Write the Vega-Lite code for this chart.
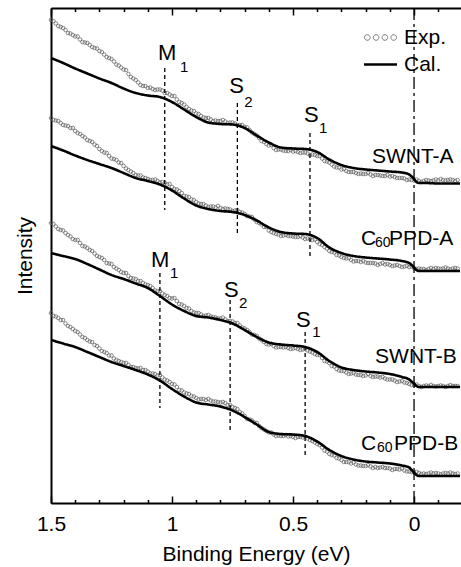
{
  "$schema": "https://vega.github.io/schema/vega-lite/v6.json",
  "width": 410,
  "height": 495,
  "autosize": {"type": "none"},
  "padding": {"left": 51, "top": 8, "right": 0, "bottom": 64},
  "background": "white",
  "config": {
    "view": {"stroke": null},
    "font": "Liberation Sans",
    "axis": {"domainColor": "black", "tickColor": "black", "labelColor": "black", "titleColor": "black", "grid": false, "titleFontWeight": "normal"},
    "text": {"font": "Liberation Sans", "color": "black"},
    "legend": {"labelFontSize": 21, "labelFont": "Liberation Sans", "labelColor": "black", "symbolSize": 272, "labelOffset": 13}
  },
  "datasets": {
    "exp": [
      {"sample":"SWNT-A","E":1.5,"I":483},{"sample":"SWNT-A","E":1.48,"I":479.5},{"sample":"SWNT-A","E":1.46,"I":476},{"sample":"SWNT-A","E":1.44,"I":473},{"sample":"SWNT-A","E":1.42,"I":469.5},{"sample":"SWNT-A","E":1.4,"I":466.5},{"sample":"SWNT-A","E":1.38,"I":463.5},{"sample":"SWNT-A","E":1.36,"I":460.5},{"sample":"SWNT-A","E":1.34,"I":458},{"sample":"SWNT-A","E":1.32,"I":455},
      {"sample":"SWNT-A","E":1.3,"I":452},{"sample":"SWNT-A","E":1.28,"I":448.5},{"sample":"SWNT-A","E":1.26,"I":445},{"sample":"SWNT-A","E":1.24,"I":441.5},{"sample":"SWNT-A","E":1.22,"I":437.5},{"sample":"SWNT-A","E":1.2,"I":433.5},{"sample":"SWNT-A","E":1.18,"I":429},{"sample":"SWNT-A","E":1.16,"I":424.5},{"sample":"SWNT-A","E":1.14,"I":420.5},{"sample":"SWNT-A","E":1.12,"I":417},
      {"sample":"SWNT-A","E":1.1,"I":415},{"sample":"SWNT-A","E":1.08,"I":414},{"sample":"SWNT-A","E":1.06,"I":413.5},{"sample":"SWNT-A","E":1.04,"I":412.5},{"sample":"SWNT-A","E":1.02,"I":410},{"sample":"SWNT-A","E":1,"I":407},{"sample":"SWNT-A","E":0.98,"I":403.5},{"sample":"SWNT-A","E":0.96,"I":400},{"sample":"SWNT-A","E":0.94,"I":396},{"sample":"SWNT-A","E":0.92,"I":392.5},
      {"sample":"SWNT-A","E":0.9,"I":389.5},{"sample":"SWNT-A","E":0.88,"I":387},{"sample":"SWNT-A","E":0.86,"I":385},{"sample":"SWNT-A","E":0.84,"I":383.5},{"sample":"SWNT-A","E":0.82,"I":382.5},{"sample":"SWNT-A","E":0.8,"I":382},{"sample":"SWNT-A","E":0.78,"I":381.5},{"sample":"SWNT-A","E":0.76,"I":380.5},{"sample":"SWNT-A","E":0.74,"I":379.5},{"sample":"SWNT-A","E":0.72,"I":378},
      {"sample":"SWNT-A","E":0.7,"I":376},{"sample":"SWNT-A","E":0.68,"I":373},{"sample":"SWNT-A","E":0.66,"I":369},{"sample":"SWNT-A","E":0.64,"I":365},{"sample":"SWNT-A","E":0.62,"I":361},{"sample":"SWNT-A","E":0.6,"I":357.5},{"sample":"SWNT-A","E":0.58,"I":355},{"sample":"SWNT-A","E":0.56,"I":353.5},{"sample":"SWNT-A","E":0.54,"I":352.5},{"sample":"SWNT-A","E":0.52,"I":352},
      {"sample":"SWNT-A","E":0.5,"I":351.5},{"sample":"SWNT-A","E":0.48,"I":351},{"sample":"SWNT-A","E":0.46,"I":350.5},{"sample":"SWNT-A","E":0.44,"I":349.5},{"sample":"SWNT-A","E":0.42,"I":348.5},{"sample":"SWNT-A","E":0.4,"I":347},{"sample":"SWNT-A","E":0.38,"I":344.5},{"sample":"SWNT-A","E":0.36,"I":341.5},{"sample":"SWNT-A","E":0.34,"I":338.5},{"sample":"SWNT-A","E":0.32,"I":335.5},
      {"sample":"SWNT-A","E":0.3,"I":333.5},{"sample":"SWNT-A","E":0.28,"I":332},{"sample":"SWNT-A","E":0.26,"I":331},{"sample":"SWNT-A","E":0.24,"I":330},{"sample":"SWNT-A","E":0.22,"I":329.5},{"sample":"SWNT-A","E":0.2,"I":329},{"sample":"SWNT-A","E":0.18,"I":328.5},{"sample":"SWNT-A","E":0.16,"I":328},{"sample":"SWNT-A","E":0.14,"I":327.5},{"sample":"SWNT-A","E":0.12,"I":327},
      {"sample":"SWNT-A","E":0.1,"I":326.5},{"sample":"SWNT-A","E":0.08,"I":326},{"sample":"SWNT-A","E":0.06,"I":325},{"sample":"SWNT-A","E":0.04,"I":324.5},{"sample":"SWNT-A","E":0.02,"I":323.5},{"sample":"SWNT-A","E":0,"I":322.5},{"sample":"SWNT-A","E":-0.02,"I":322},{"sample":"SWNT-A","E":-0.04,"I":322},{"sample":"SWNT-A","E":-0.06,"I":322.5},{"sample":"SWNT-A","E":-0.08,"I":322.5},
      {"sample":"SWNT-A","E":-0.1,"I":322.5},{"sample":"SWNT-A","E":-0.12,"I":323},{"sample":"SWNT-A","E":-0.14,"I":323},{"sample":"SWNT-A","E":-0.16,"I":323},{"sample":"SWNT-A","E":-0.18,"I":323},
      {"sample":"SWNT-A","E":1.49,"I":482},{"sample":"SWNT-A","E":1.47,"I":477},{"sample":"SWNT-A","E":1.45,"I":475},{"sample":"SWNT-A","E":1.43,"I":470},{"sample":"SWNT-A","E":1.41,"I":468},{"sample":"SWNT-A","E":1.39,"I":466.5},{"sample":"SWNT-A","E":1.37,"I":461},{"sample":"SWNT-A","E":1.35,"I":460},{"sample":"SWNT-A","E":1.33,"I":456},{"sample":"SWNT-A","E":1.31,"I":454.5},
      {"sample":"SWNT-A","E":1.29,"I":451},{"sample":"SWNT-A","E":1.27,"I":446},{"sample":"SWNT-A","E":1.25,"I":444},{"sample":"SWNT-A","E":1.23,"I":438.5},{"sample":"SWNT-A","E":1.21,"I":435.5},{"sample":"SWNT-A","E":1.19,"I":433},{"sample":"SWNT-A","E":1.17,"I":426},{"sample":"SWNT-A","E":1.15,"I":423},{"sample":"SWNT-A","E":1.13,"I":418},{"sample":"SWNT-A","E":1.11,"I":417},
      {"sample":"SWNT-A","E":1.09,"I":415.5},{"sample":"SWNT-A","E":1.07,"I":413},{"sample":"SWNT-A","E":1.05,"I":413.5},{"sample":"SWNT-A","E":1.03,"I":410},{"sample":"SWNT-A","E":1.01,"I":408.5},{"sample":"SWNT-A","E":0.99,"I":407},{"sample":"SWNT-A","E":0.97,"I":401},{"sample":"SWNT-A","E":0.95,"I":398.5},{"sample":"SWNT-A","E":0.93,"I":394},{"sample":"SWNT-A","E":0.91,"I":392},
      {"sample":"SWNT-A","E":0.89,"I":389},{"sample":"SWNT-A","E":0.87,"I":385.5},{"sample":"SWNT-A","E":0.85,"I":385},{"sample":"SWNT-A","E":0.83,"I":382},{"sample":"SWNT-A","E":0.81,"I":382},{"sample":"SWNT-A","E":0.79,"I":383},{"sample":"SWNT-A","E":0.77,"I":380},{"sample":"SWNT-A","E":0.75,"I":380.5},{"sample":"SWNT-A","E":0.73,"I":378},{"sample":"SWNT-A","E":0.71,"I":378},
      {"sample":"SWNT-A","E":0.69,"I":375.5},{"sample":"SWNT-A","E":0.67,"I":370.5},{"sample":"SWNT-A","E":0.65,"I":367.5},{"sample":"SWNT-A","E":0.63,"I":362},{"sample":"SWNT-A","E":0.61,"I":359},{"sample":"SWNT-A","E":0.59,"I":358},{"sample":"SWNT-A","E":0.57,"I":353},{"sample":"SWNT-A","E":0.55,"I":353.5},{"sample":"SWNT-A","E":0.53,"I":352},{"sample":"SWNT-A","E":0.51,"I":353},
      {"sample":"SWNT-A","E":0.49,"I":352},{"sample":"SWNT-A","E":0.47,"I":350},{"sample":"SWNT-A","E":0.45,"I":350.5},{"sample":"SWNT-A","E":0.43,"I":348},{"sample":"SWNT-A","E":0.41,"I":348},{"sample":"SWNT-A","E":0.39,"I":347},{"sample":"SWNT-A","E":0.37,"I":342},{"sample":"SWNT-A","E":0.35,"I":340.5},{"sample":"SWNT-A","E":0.33,"I":336.5},{"sample":"SWNT-A","E":0.31,"I":335.5},
      {"sample":"SWNT-A","E":0.29,"I":334},{"sample":"SWNT-A","E":0.27,"I":331},{"sample":"SWNT-A","E":0.25,"I":331},{"sample":"SWNT-A","E":0.23,"I":329},{"sample":"SWNT-A","E":0.21,"I":329},{"sample":"SWNT-A","E":0.19,"I":330},{"sample":"SWNT-A","E":0.17,"I":327},{"sample":"SWNT-A","E":0.15,"I":328},{"sample":"SWNT-A","E":0.13,"I":327},{"sample":"SWNT-A","E":0.11,"I":328},
      {"sample":"SWNT-A","E":0.09,"I":327},{"sample":"SWNT-A","E":0.07,"I":325},{"sample":"SWNT-A","E":0.05,"I":325},{"sample":"SWNT-A","E":0.03,"I":323},{"sample":"SWNT-A","E":0.01,"I":323},{"sample":"SWNT-A","E":-0.01,"I":323.5},{"sample":"SWNT-A","E":-0.03,"I":321},{"sample":"SWNT-A","E":-0.05,"I":323},{"sample":"SWNT-A","E":-0.07,"I":322},{"sample":"SWNT-A","E":-0.09,"I":323.5},
      {"sample":"SWNT-A","E":-0.11,"I":324},{"sample":"SWNT-A","E":-0.13,"I":322.5},{"sample":"SWNT-A","E":-0.15,"I":323.5},{"sample":"SWNT-A","E":-0.17,"I":322},

      {"sample":"C60PPD-A","E":1.5,"I":385},{"sample":"C60PPD-A","E":1.48,"I":382.5},{"sample":"C60PPD-A","E":1.46,"I":380},{"sample":"C60PPD-A","E":1.44,"I":377.5},{"sample":"C60PPD-A","E":1.42,"I":375},{"sample":"C60PPD-A","E":1.4,"I":372},{"sample":"C60PPD-A","E":1.38,"I":369},{"sample":"C60PPD-A","E":1.36,"I":365.5},{"sample":"C60PPD-A","E":1.34,"I":362},{"sample":"C60PPD-A","E":1.32,"I":358.5},
      {"sample":"C60PPD-A","E":1.3,"I":354},{"sample":"C60PPD-A","E":1.28,"I":350.5},{"sample":"C60PPD-A","E":1.26,"I":347},{"sample":"C60PPD-A","E":1.24,"I":344},{"sample":"C60PPD-A","E":1.22,"I":340.5},{"sample":"C60PPD-A","E":1.2,"I":337},{"sample":"C60PPD-A","E":1.18,"I":333},{"sample":"C60PPD-A","E":1.16,"I":330},{"sample":"C60PPD-A","E":1.14,"I":327.5},{"sample":"C60PPD-A","E":1.12,"I":325.5},
      {"sample":"C60PPD-A","E":1.1,"I":324},{"sample":"C60PPD-A","E":1.08,"I":323},{"sample":"C60PPD-A","E":1.06,"I":322},{"sample":"C60PPD-A","E":1.04,"I":321},{"sample":"C60PPD-A","E":1.02,"I":318.5},{"sample":"C60PPD-A","E":1,"I":316},{"sample":"C60PPD-A","E":0.98,"I":313.5},{"sample":"C60PPD-A","E":0.96,"I":310},{"sample":"C60PPD-A","E":0.94,"I":306.5},{"sample":"C60PPD-A","E":0.92,"I":303.5},
      {"sample":"C60PPD-A","E":0.9,"I":301},{"sample":"C60PPD-A","E":0.88,"I":299},{"sample":"C60PPD-A","E":0.86,"I":297.5},{"sample":"C60PPD-A","E":0.84,"I":296.5},{"sample":"C60PPD-A","E":0.82,"I":295.5},{"sample":"C60PPD-A","E":0.8,"I":295},{"sample":"C60PPD-A","E":0.78,"I":294.5},{"sample":"C60PPD-A","E":0.76,"I":293.5},{"sample":"C60PPD-A","E":0.74,"I":292.5},{"sample":"C60PPD-A","E":0.72,"I":291},
      {"sample":"C60PPD-A","E":0.7,"I":289},{"sample":"C60PPD-A","E":0.68,"I":286.5},{"sample":"C60PPD-A","E":0.66,"I":283.5},{"sample":"C60PPD-A","E":0.64,"I":280},{"sample":"C60PPD-A","E":0.62,"I":276},{"sample":"C60PPD-A","E":0.6,"I":272.5},{"sample":"C60PPD-A","E":0.58,"I":270},{"sample":"C60PPD-A","E":0.56,"I":268.5},{"sample":"C60PPD-A","E":0.54,"I":267.5},{"sample":"C60PPD-A","E":0.52,"I":267},
      {"sample":"C60PPD-A","E":0.5,"I":266.5},{"sample":"C60PPD-A","E":0.48,"I":266},{"sample":"C60PPD-A","E":0.46,"I":265.5},{"sample":"C60PPD-A","E":0.44,"I":264.5},{"sample":"C60PPD-A","E":0.42,"I":263},{"sample":"C60PPD-A","E":0.4,"I":261},{"sample":"C60PPD-A","E":0.38,"I":258},{"sample":"C60PPD-A","E":0.36,"I":254.5},{"sample":"C60PPD-A","E":0.34,"I":251},{"sample":"C60PPD-A","E":0.32,"I":248},
      {"sample":"C60PPD-A","E":0.3,"I":246},{"sample":"C60PPD-A","E":0.28,"I":244.5},{"sample":"C60PPD-A","E":0.26,"I":243},{"sample":"C60PPD-A","E":0.24,"I":242},{"sample":"C60PPD-A","E":0.22,"I":241},{"sample":"C60PPD-A","E":0.2,"I":240.5},{"sample":"C60PPD-A","E":0.18,"I":240},{"sample":"C60PPD-A","E":0.16,"I":239.5},{"sample":"C60PPD-A","E":0.14,"I":239},{"sample":"C60PPD-A","E":0.12,"I":238.5},
      {"sample":"C60PPD-A","E":0.1,"I":238},{"sample":"C60PPD-A","E":0.08,"I":237.5},{"sample":"C60PPD-A","E":0.06,"I":237},{"sample":"C60PPD-A","E":0.04,"I":236.5},{"sample":"C60PPD-A","E":0.02,"I":236},{"sample":"C60PPD-A","E":0,"I":235},{"sample":"C60PPD-A","E":-0.02,"I":234.5},{"sample":"C60PPD-A","E":-0.04,"I":234},{"sample":"C60PPD-A","E":-0.06,"I":234},{"sample":"C60PPD-A","E":-0.08,"I":234},
      {"sample":"C60PPD-A","E":-0.1,"I":234.5},{"sample":"C60PPD-A","E":-0.12,"I":234.5},{"sample":"C60PPD-A","E":-0.14,"I":234.5},{"sample":"C60PPD-A","E":-0.16,"I":234.5},{"sample":"C60PPD-A","E":-0.18,"I":234.5},
      {"sample":"C60PPD-A","E":1.49,"I":383},{"sample":"C60PPD-A","E":1.47,"I":382},{"sample":"C60PPD-A","E":1.45,"I":378},{"sample":"C60PPD-A","E":1.43,"I":377},{"sample":"C60PPD-A","E":1.41,"I":375},{"sample":"C60PPD-A","E":1.39,"I":370},{"sample":"C60PPD-A","E":1.37,"I":367},{"sample":"C60PPD-A","E":1.35,"I":363},{"sample":"C60PPD-A","E":1.33,"I":361},{"sample":"C60PPD-A","E":1.31,"I":357},
      {"sample":"C60PPD-A","E":1.29,"I":352},{"sample":"C60PPD-A","E":1.27,"I":350},{"sample":"C60PPD-A","E":1.25,"I":344.5},{"sample":"C60PPD-A","E":1.23,"I":343},{"sample":"C60PPD-A","E":1.21,"I":340},{"sample":"C60PPD-A","E":1.19,"I":334.5},{"sample":"C60PPD-A","E":1.17,"I":331.5},{"sample":"C60PPD-A","E":1.15,"I":328},{"sample":"C60PPD-A","E":1.13,"I":327.5},{"sample":"C60PPD-A","E":1.11,"I":325},
      {"sample":"C60PPD-A","E":1.09,"I":323},{"sample":"C60PPD-A","E":1.07,"I":323.5},{"sample":"C60PPD-A","E":1.05,"I":320.5},{"sample":"C60PPD-A","E":1.03,"I":320},{"sample":"C60PPD-A","E":1.01,"I":319},{"sample":"C60PPD-A","E":0.99,"I":314},{"sample":"C60PPD-A","E":0.97,"I":312},{"sample":"C60PPD-A","E":0.95,"I":307},{"sample":"C60PPD-A","E":0.93,"I":306},{"sample":"C60PPD-A","E":0.91,"I":303},
      {"sample":"C60PPD-A","E":0.89,"I":299.5},{"sample":"C60PPD-A","E":0.87,"I":299},{"sample":"C60PPD-A","E":0.85,"I":296},{"sample":"C60PPD-A","E":0.83,"I":296.5},{"sample":"C60PPD-A","E":0.81,"I":297},{"sample":"C60PPD-A","E":0.79,"I":294},{"sample":"C60PPD-A","E":0.77,"I":294},{"sample":"C60PPD-A","E":0.75,"I":292},{"sample":"C60PPD-A","E":0.73,"I":293},{"sample":"C60PPD-A","E":0.71,"I":290.5},
      {"sample":"C60PPD-A","E":0.69,"I":287},{"sample":"C60PPD-A","E":0.67,"I":286},{"sample":"C60PPD-A","E":0.65,"I":281},{"sample":"C60PPD-A","E":0.63,"I":278.5},{"sample":"C60PPD-A","E":0.61,"I":276},{"sample":"C60PPD-A","E":0.59,"I":271},{"sample":"C60PPD-A","E":0.57,"I":269},{"sample":"C60PPD-A","E":0.55,"I":267},{"sample":"C60PPD-A","E":0.53,"I":268},{"sample":"C60PPD-A","E":0.51,"I":267},
      {"sample":"C60PPD-A","E":0.49,"I":266},{"sample":"C60PPD-A","E":0.47,"I":267},{"sample":"C60PPD-A","E":0.45,"I":264},{"sample":"C60PPD-A","E":0.43,"I":264},{"sample":"C60PPD-A","E":0.41,"I":263.5},{"sample":"C60PPD-A","E":0.39,"I":259},{"sample":"C60PPD-A","E":0.37,"I":256},{"sample":"C60PPD-A","E":0.35,"I":252},{"sample":"C60PPD-A","E":0.33,"I":250.5},{"sample":"C60PPD-A","E":0.31,"I":247.5},
      {"sample":"C60PPD-A","E":0.29,"I":245},{"sample":"C60PPD-A","E":0.27,"I":245},{"sample":"C60PPD-A","E":0.25,"I":241.5},{"sample":"C60PPD-A","E":0.23,"I":242},{"sample":"C60PPD-A","E":0.21,"I":242},{"sample":"C60PPD-A","E":0.19,"I":240},{"sample":"C60PPD-A","E":0.17,"I":240},{"sample":"C60PPD-A","E":0.15,"I":238},{"sample":"C60PPD-A","E":0.13,"I":240},{"sample":"C60PPD-A","E":0.11,"I":239},
      {"sample":"C60PPD-A","E":0.09,"I":237},{"sample":"C60PPD-A","E":0.07,"I":238},{"sample":"C60PPD-A","E":0.05,"I":236},{"sample":"C60PPD-A","E":0.03,"I":237},{"sample":"C60PPD-A","E":0.01,"I":236.5},{"sample":"C60PPD-A","E":-0.01,"I":234},{"sample":"C60PPD-A","E":-0.03,"I":234},{"sample":"C60PPD-A","E":-0.05,"I":233},{"sample":"C60PPD-A","E":-0.07,"I":235},{"sample":"C60PPD-A","E":-0.09,"I":235},
      {"sample":"C60PPD-A","E":-0.11,"I":234},{"sample":"C60PPD-A","E":-0.13,"I":235.5},{"sample":"C60PPD-A","E":-0.15,"I":233.5},{"sample":"C60PPD-A","E":-0.17,"I":235},

      {"sample":"SWNT-B","E":1.5,"I":280},{"sample":"SWNT-B","E":1.48,"I":276.5},{"sample":"SWNT-B","E":1.46,"I":273},{"sample":"SWNT-B","E":1.44,"I":270},{"sample":"SWNT-B","E":1.42,"I":266.5},{"sample":"SWNT-B","E":1.4,"I":263},{"sample":"SWNT-B","E":1.38,"I":260},{"sample":"SWNT-B","E":1.36,"I":256.5},{"sample":"SWNT-B","E":1.34,"I":253},{"sample":"SWNT-B","E":1.32,"I":249.5},
      {"sample":"SWNT-B","E":1.3,"I":246},{"sample":"SWNT-B","E":1.28,"I":243},{"sample":"SWNT-B","E":1.26,"I":239.5},{"sample":"SWNT-B","E":1.24,"I":236},{"sample":"SWNT-B","E":1.22,"I":233},{"sample":"SWNT-B","E":1.2,"I":230},{"sample":"SWNT-B","E":1.18,"I":227},{"sample":"SWNT-B","E":1.16,"I":224.5},{"sample":"SWNT-B","E":1.14,"I":222},{"sample":"SWNT-B","E":1.12,"I":220},
      {"sample":"SWNT-B","E":1.1,"I":218},{"sample":"SWNT-B","E":1.08,"I":215},{"sample":"SWNT-B","E":1.06,"I":212},{"sample":"SWNT-B","E":1.04,"I":209.5},{"sample":"SWNT-B","E":1.02,"I":207},{"sample":"SWNT-B","E":1,"I":204.5},{"sample":"SWNT-B","E":0.98,"I":202},{"sample":"SWNT-B","E":0.96,"I":198.5},{"sample":"SWNT-B","E":0.94,"I":195},{"sample":"SWNT-B","E":0.92,"I":192},
      {"sample":"SWNT-B","E":0.9,"I":190},{"sample":"SWNT-B","E":0.88,"I":188.5},{"sample":"SWNT-B","E":0.86,"I":187.5},{"sample":"SWNT-B","E":0.84,"I":186.5},{"sample":"SWNT-B","E":0.82,"I":185.5},{"sample":"SWNT-B","E":0.8,"I":184.5},{"sample":"SWNT-B","E":0.78,"I":183.5},{"sample":"SWNT-B","E":0.76,"I":182},{"sample":"SWNT-B","E":0.74,"I":180},{"sample":"SWNT-B","E":0.72,"I":177.5},
      {"sample":"SWNT-B","E":0.7,"I":174.5},{"sample":"SWNT-B","E":0.68,"I":171},{"sample":"SWNT-B","E":0.66,"I":168},{"sample":"SWNT-B","E":0.64,"I":164.5},{"sample":"SWNT-B","E":0.62,"I":161},{"sample":"SWNT-B","E":0.6,"I":158.5},{"sample":"SWNT-B","E":0.58,"I":157},{"sample":"SWNT-B","E":0.56,"I":156},{"sample":"SWNT-B","E":0.54,"I":155.5},{"sample":"SWNT-B","E":0.52,"I":155},
      {"sample":"SWNT-B","E":0.5,"I":154.5},{"sample":"SWNT-B","E":0.48,"I":154},{"sample":"SWNT-B","E":0.46,"I":153.5},{"sample":"SWNT-B","E":0.44,"I":152.5},{"sample":"SWNT-B","E":0.42,"I":150.5},{"sample":"SWNT-B","E":0.4,"I":148},{"sample":"SWNT-B","E":0.38,"I":145},{"sample":"SWNT-B","E":0.36,"I":141.5},{"sample":"SWNT-B","E":0.34,"I":137},{"sample":"SWNT-B","E":0.32,"I":134},
      {"sample":"SWNT-B","E":0.3,"I":132},{"sample":"SWNT-B","E":0.28,"I":130.5},{"sample":"SWNT-B","E":0.26,"I":129.5},{"sample":"SWNT-B","E":0.24,"I":128.5},{"sample":"SWNT-B","E":0.22,"I":128},{"sample":"SWNT-B","E":0.2,"I":127.5},{"sample":"SWNT-B","E":0.18,"I":127},{"sample":"SWNT-B","E":0.16,"I":126.5},{"sample":"SWNT-B","E":0.14,"I":125.5},{"sample":"SWNT-B","E":0.12,"I":124.5},
      {"sample":"SWNT-B","E":0.1,"I":123.5},{"sample":"SWNT-B","E":0.08,"I":122.5},{"sample":"SWNT-B","E":0.06,"I":121.5},{"sample":"SWNT-B","E":0.04,"I":120.5},{"sample":"SWNT-B","E":0.02,"I":119},{"sample":"SWNT-B","E":0,"I":118},{"sample":"SWNT-B","E":-0.02,"I":117},{"sample":"SWNT-B","E":-0.04,"I":117},{"sample":"SWNT-B","E":-0.06,"I":117},{"sample":"SWNT-B","E":-0.08,"I":117},
      {"sample":"SWNT-B","E":-0.1,"I":117},{"sample":"SWNT-B","E":-0.12,"I":117},{"sample":"SWNT-B","E":-0.14,"I":117},{"sample":"SWNT-B","E":-0.16,"I":117},{"sample":"SWNT-B","E":-0.18,"I":117},
      {"sample":"SWNT-B","E":1.49,"I":279},{"sample":"SWNT-B","E":1.47,"I":274},{"sample":"SWNT-B","E":1.45,"I":272.5},{"sample":"SWNT-B","E":1.43,"I":268},{"sample":"SWNT-B","E":1.41,"I":264},{"sample":"SWNT-B","E":1.39,"I":263},{"sample":"SWNT-B","E":1.37,"I":257},{"sample":"SWNT-B","E":1.35,"I":255},{"sample":"SWNT-B","E":1.33,"I":252},{"sample":"SWNT-B","E":1.31,"I":247},
      {"sample":"SWNT-B","E":1.29,"I":245},{"sample":"SWNT-B","E":1.27,"I":240},{"sample":"SWNT-B","E":1.25,"I":239},{"sample":"SWNT-B","E":1.23,"I":234.5},{"sample":"SWNT-B","E":1.21,"I":231},{"sample":"SWNT-B","E":1.19,"I":230},{"sample":"SWNT-B","E":1.17,"I":225},{"sample":"SWNT-B","E":1.15,"I":224},{"sample":"SWNT-B","E":1.13,"I":222},{"sample":"SWNT-B","E":1.11,"I":218.5},
      {"sample":"SWNT-B","E":1.09,"I":217},{"sample":"SWNT-B","E":1.07,"I":212.5},{"sample":"SWNT-B","E":1.05,"I":212},{"sample":"SWNT-B","E":1.03,"I":208},{"sample":"SWNT-B","E":1.01,"I":205},{"sample":"SWNT-B","E":0.99,"I":205},{"sample":"SWNT-B","E":0.97,"I":199},{"sample":"SWNT-B","E":0.95,"I":197},{"sample":"SWNT-B","E":0.93,"I":194.5},{"sample":"SWNT-B","E":0.91,"I":190.5},
      {"sample":"SWNT-B","E":0.89,"I":190},{"sample":"SWNT-B","E":0.87,"I":187},{"sample":"SWNT-B","E":0.85,"I":188},{"sample":"SWNT-B","E":0.83,"I":186},{"sample":"SWNT-B","E":0.81,"I":184.5},{"sample":"SWNT-B","E":0.79,"I":185.5},{"sample":"SWNT-B","E":0.77,"I":182},{"sample":"SWNT-B","E":0.75,"I":181.5},{"sample":"SWNT-B","E":0.73,"I":180},{"sample":"SWNT-B","E":0.71,"I":175.5},
      {"sample":"SWNT-B","E":0.69,"I":173},{"sample":"SWNT-B","E":0.67,"I":168.5},{"sample":"SWNT-B","E":0.65,"I":167},{"sample":"SWNT-B","E":0.63,"I":163},{"sample":"SWNT-B","E":0.61,"I":159},{"sample":"SWNT-B","E":0.59,"I":159},{"sample":"SWNT-B","E":0.57,"I":155.5},{"sample":"SWNT-B","E":0.55,"I":156},{"sample":"SWNT-B","E":0.53,"I":156},{"sample":"SWNT-B","E":0.51,"I":154},
      {"sample":"SWNT-B","E":0.49,"I":155},{"sample":"SWNT-B","E":0.47,"I":153},{"sample":"SWNT-B","E":0.45,"I":154},{"sample":"SWNT-B","E":0.43,"I":151.5},{"sample":"SWNT-B","E":0.41,"I":149},{"sample":"SWNT-B","E":0.39,"I":148},{"sample":"SWNT-B","E":0.37,"I":142},{"sample":"SWNT-B","E":0.35,"I":140},{"sample":"SWNT-B","E":0.33,"I":136.5},{"sample":"SWNT-B","E":0.31,"I":132.5},
      {"sample":"SWNT-B","E":0.29,"I":132},{"sample":"SWNT-B","E":0.27,"I":129},{"sample":"SWNT-B","E":0.25,"I":130},{"sample":"SWNT-B","E":0.23,"I":128},{"sample":"SWNT-B","E":0.21,"I":127},{"sample":"SWNT-B","E":0.19,"I":129},{"sample":"SWNT-B","E":0.17,"I":126},{"sample":"SWNT-B","E":0.15,"I":126.5},{"sample":"SWNT-B","E":0.13,"I":126},{"sample":"SWNT-B","E":0.11,"I":123.5},
      {"sample":"SWNT-B","E":0.09,"I":123.5},{"sample":"SWNT-B","E":0.07,"I":121},{"sample":"SWNT-B","E":0.05,"I":122},{"sample":"SWNT-B","E":0.03,"I":120},{"sample":"SWNT-B","E":0.01,"I":118},{"sample":"SWNT-B","E":-0.01,"I":118.5},{"sample":"SWNT-B","E":-0.03,"I":116},{"sample":"SWNT-B","E":-0.05,"I":117.5},{"sample":"SWNT-B","E":-0.07,"I":118},{"sample":"SWNT-B","E":-0.09,"I":116.5},
      {"sample":"SWNT-B","E":-0.11,"I":117.5},{"sample":"SWNT-B","E":-0.13,"I":116},{"sample":"SWNT-B","E":-0.15,"I":118},{"sample":"SWNT-B","E":-0.17,"I":117},

      {"sample":"C60PPD-B","E":1.5,"I":190},{"sample":"C60PPD-B","E":1.48,"I":186.5},{"sample":"C60PPD-B","E":1.46,"I":183},{"sample":"C60PPD-B","E":1.44,"I":179.5},{"sample":"C60PPD-B","E":1.42,"I":176},{"sample":"C60PPD-B","E":1.4,"I":172},{"sample":"C60PPD-B","E":1.38,"I":168.5},{"sample":"C60PPD-B","E":1.36,"I":165},{"sample":"C60PPD-B","E":1.34,"I":161.5},{"sample":"C60PPD-B","E":1.32,"I":158},
      {"sample":"C60PPD-B","E":1.3,"I":154.5},{"sample":"C60PPD-B","E":1.28,"I":151},{"sample":"C60PPD-B","E":1.26,"I":147.5},{"sample":"C60PPD-B","E":1.24,"I":144.5},{"sample":"C60PPD-B","E":1.22,"I":142},{"sample":"C60PPD-B","E":1.2,"I":140},{"sample":"C60PPD-B","E":1.18,"I":138},{"sample":"C60PPD-B","E":1.16,"I":136},{"sample":"C60PPD-B","E":1.14,"I":134.5},{"sample":"C60PPD-B","E":1.12,"I":133},
      {"sample":"C60PPD-B","E":1.1,"I":131.5},{"sample":"C60PPD-B","E":1.08,"I":129.5},{"sample":"C60PPD-B","E":1.06,"I":127.5},{"sample":"C60PPD-B","E":1.04,"I":125.5},{"sample":"C60PPD-B","E":1.02,"I":122.5},{"sample":"C60PPD-B","E":1,"I":119},{"sample":"C60PPD-B","E":0.98,"I":116},{"sample":"C60PPD-B","E":0.96,"I":112.5},{"sample":"C60PPD-B","E":0.94,"I":109.5},{"sample":"C60PPD-B","E":0.92,"I":107},
      {"sample":"C60PPD-B","E":0.9,"I":105},{"sample":"C60PPD-B","E":0.88,"I":104},{"sample":"C60PPD-B","E":0.86,"I":103},{"sample":"C60PPD-B","E":0.84,"I":102.5},{"sample":"C60PPD-B","E":0.82,"I":101.5},{"sample":"C60PPD-B","E":0.8,"I":100.5},{"sample":"C60PPD-B","E":0.78,"I":100},{"sample":"C60PPD-B","E":0.76,"I":98},{"sample":"C60PPD-B","E":0.74,"I":95},{"sample":"C60PPD-B","E":0.72,"I":91},
      {"sample":"C60PPD-B","E":0.7,"I":87},{"sample":"C60PPD-B","E":0.68,"I":83.5},{"sample":"C60PPD-B","E":0.66,"I":80.5},{"sample":"C60PPD-B","E":0.64,"I":77},{"sample":"C60PPD-B","E":0.62,"I":73.5},{"sample":"C60PPD-B","E":0.6,"I":70.5},{"sample":"C60PPD-B","E":0.58,"I":68.5},{"sample":"C60PPD-B","E":0.56,"I":67.5},{"sample":"C60PPD-B","E":0.54,"I":67},{"sample":"C60PPD-B","E":0.52,"I":66.5},
      {"sample":"C60PPD-B","E":0.5,"I":66},{"sample":"C60PPD-B","E":0.48,"I":66},{"sample":"C60PPD-B","E":0.46,"I":65.5},{"sample":"C60PPD-B","E":0.44,"I":64.5},{"sample":"C60PPD-B","E":0.42,"I":62},{"sample":"C60PPD-B","E":0.4,"I":59},{"sample":"C60PPD-B","E":0.38,"I":55.5},{"sample":"C60PPD-B","E":0.36,"I":51.5},{"sample":"C60PPD-B","E":0.34,"I":48},{"sample":"C60PPD-B","E":0.32,"I":45},
      {"sample":"C60PPD-B","E":0.3,"I":43},{"sample":"C60PPD-B","E":0.28,"I":41},{"sample":"C60PPD-B","E":0.26,"I":39.5},{"sample":"C60PPD-B","E":0.24,"I":38.5},{"sample":"C60PPD-B","E":0.22,"I":37.5},{"sample":"C60PPD-B","E":0.2,"I":37},{"sample":"C60PPD-B","E":0.18,"I":36.5},{"sample":"C60PPD-B","E":0.16,"I":36},{"sample":"C60PPD-B","E":0.14,"I":35.5},{"sample":"C60PPD-B","E":0.12,"I":35},
      {"sample":"C60PPD-B","E":0.1,"I":34.5},{"sample":"C60PPD-B","E":0.08,"I":34},{"sample":"C60PPD-B","E":0.06,"I":33.5},{"sample":"C60PPD-B","E":0.04,"I":32.5},{"sample":"C60PPD-B","E":0.02,"I":31.5},{"sample":"C60PPD-B","E":0,"I":30.5},{"sample":"C60PPD-B","E":-0.02,"I":30},{"sample":"C60PPD-B","E":-0.04,"I":29.5},{"sample":"C60PPD-B","E":-0.06,"I":29.5},{"sample":"C60PPD-B","E":-0.08,"I":29.5},
      {"sample":"C60PPD-B","E":-0.1,"I":29.5},{"sample":"C60PPD-B","E":-0.12,"I":29.5},{"sample":"C60PPD-B","E":-0.14,"I":29.5},{"sample":"C60PPD-B","E":-0.16,"I":29.5},{"sample":"C60PPD-B","E":-0.18,"I":29.5},
      {"sample":"C60PPD-B","E":1.49,"I":187},{"sample":"C60PPD-B","E":1.47,"I":185},{"sample":"C60PPD-B","E":1.45,"I":183},{"sample":"C60PPD-B","E":1.43,"I":177},{"sample":"C60PPD-B","E":1.41,"I":174},{"sample":"C60PPD-B","E":1.39,"I":171},{"sample":"C60PPD-B","E":1.37,"I":166},{"sample":"C60PPD-B","E":1.35,"I":163},{"sample":"C60PPD-B","E":1.33,"I":161},{"sample":"C60PPD-B","E":1.31,"I":157},
      {"sample":"C60PPD-B","E":1.29,"I":152},{"sample":"C60PPD-B","E":1.27,"I":150},{"sample":"C60PPD-B","E":1.25,"I":147.5},{"sample":"C60PPD-B","E":1.23,"I":143},{"sample":"C60PPD-B","E":1.21,"I":141},{"sample":"C60PPD-B","E":1.19,"I":140},{"sample":"C60PPD-B","E":1.17,"I":136},{"sample":"C60PPD-B","E":1.15,"I":135},{"sample":"C60PPD-B","E":1.13,"I":135},{"sample":"C60PPD-B","E":1.11,"I":133},
      {"sample":"C60PPD-B","E":1.09,"I":129.5},{"sample":"C60PPD-B","E":1.07,"I":129},{"sample":"C60PPD-B","E":1.05,"I":128},{"sample":"C60PPD-B","E":1.03,"I":123.5},{"sample":"C60PPD-B","E":1.01,"I":121},{"sample":"C60PPD-B","E":0.99,"I":118.5},{"sample":"C60PPD-B","E":0.97,"I":113},{"sample":"C60PPD-B","E":0.95,"I":110.5},{"sample":"C60PPD-B","E":0.93,"I":109},{"sample":"C60PPD-B","E":0.91,"I":106.5},
      {"sample":"C60PPD-B","E":0.89,"I":103.5},{"sample":"C60PPD-B","E":0.87,"I":104},{"sample":"C60PPD-B","E":0.85,"I":104},{"sample":"C60PPD-B","E":0.83,"I":101.5},{"sample":"C60PPD-B","E":0.81,"I":101},{"sample":"C60PPD-B","E":0.79,"I":101},{"sample":"C60PPD-B","E":0.77,"I":98},{"sample":"C60PPD-B","E":0.75,"I":96},{"sample":"C60PPD-B","E":0.73,"I":94},{"sample":"C60PPD-B","E":0.71,"I":89.5},
      {"sample":"C60PPD-B","E":0.69,"I":84},{"sample":"C60PPD-B","E":0.67,"I":82.5},{"sample":"C60PPD-B","E":0.65,"I":80},{"sample":"C60PPD-B","E":0.63,"I":75},{"sample":"C60PPD-B","E":0.61,"I":72},{"sample":"C60PPD-B","E":0.59,"I":70.5},{"sample":"C60PPD-B","E":0.57,"I":67},{"sample":"C60PPD-B","E":0.55,"I":67},{"sample":"C60PPD-B","E":0.53,"I":68},{"sample":"C60PPD-B","E":0.51,"I":67},
      {"sample":"C60PPD-B","E":0.49,"I":65},{"sample":"C60PPD-B","E":0.47,"I":66},{"sample":"C60PPD-B","E":0.45,"I":66.5},{"sample":"C60PPD-B","E":0.43,"I":63},{"sample":"C60PPD-B","E":0.41,"I":60.5},{"sample":"C60PPD-B","E":0.39,"I":58},{"sample":"C60PPD-B","E":0.37,"I":52.5},{"sample":"C60PPD-B","E":0.35,"I":49},{"sample":"C60PPD-B","E":0.33,"I":47.5},{"sample":"C60PPD-B","E":0.31,"I":44.5},
      {"sample":"C60PPD-B","E":0.29,"I":41},{"sample":"C60PPD-B","E":0.27,"I":41},{"sample":"C60PPD-B","E":0.25,"I":40.5},{"sample":"C60PPD-B","E":0.23,"I":37.5},{"sample":"C60PPD-B","E":0.21,"I":37},{"sample":"C60PPD-B","E":0.19,"I":38},{"sample":"C60PPD-B","E":0.17,"I":35},{"sample":"C60PPD-B","E":0.15,"I":35},{"sample":"C60PPD-B","E":0.13,"I":36},{"sample":"C60PPD-B","E":0.11,"I":35},
      {"sample":"C60PPD-B","E":0.09,"I":33},{"sample":"C60PPD-B","E":0.07,"I":34},{"sample":"C60PPD-B","E":0.05,"I":34.5},{"sample":"C60PPD-B","E":0.03,"I":31.5},{"sample":"C60PPD-B","E":0.01,"I":31},{"sample":"C60PPD-B","E":-0.01,"I":31},{"sample":"C60PPD-B","E":-0.03,"I":29},{"sample":"C60PPD-B","E":-0.05,"I":29},{"sample":"C60PPD-B","E":-0.07,"I":30.5},{"sample":"C60PPD-B","E":-0.09,"I":30},
      {"sample":"C60PPD-B","E":-0.11,"I":28.5},{"sample":"C60PPD-B","E":-0.13,"I":30},{"sample":"C60PPD-B","E":-0.15,"I":30.5},{"sample":"C60PPD-B","E":-0.17,"I":29}
    ],
    "cal": [
      {"sample":"SWNT-A","E":1.5,"I":445},{"sample":"SWNT-A","E":1.45,"I":440},{"sample":"SWNT-A","E":1.4,"I":434.5},{"sample":"SWNT-A","E":1.35,"I":429.5},{"sample":"SWNT-A","E":1.3,"I":424.5},{"sample":"SWNT-A","E":1.25,"I":420},{"sample":"SWNT-A","E":1.2,"I":414.5},{"sample":"SWNT-A","E":1.15,"I":410},{"sample":"SWNT-A","E":1.1,"I":407.5},{"sample":"SWNT-A","E":1.05,"I":406},
      {"sample":"SWNT-A","E":1,"I":401},{"sample":"SWNT-A","E":0.95,"I":393.5},{"sample":"SWNT-A","E":0.9,"I":386},{"sample":"SWNT-A","E":0.85,"I":380.5},{"sample":"SWNT-A","E":0.8,"I":379},{"sample":"SWNT-A","E":0.75,"I":378.5},{"sample":"SWNT-A","E":0.7,"I":375},{"sample":"SWNT-A","E":0.65,"I":367.5},{"sample":"SWNT-A","E":0.6,"I":360.5},{"sample":"SWNT-A","E":0.55,"I":355.5},
      {"sample":"SWNT-A","E":0.5,"I":354.5},{"sample":"SWNT-A","E":0.45,"I":354},{"sample":"SWNT-A","E":0.4,"I":351},{"sample":"SWNT-A","E":0.35,"I":343.5},{"sample":"SWNT-A","E":0.3,"I":338},{"sample":"SWNT-A","E":0.25,"I":335},{"sample":"SWNT-A","E":0.2,"I":333.5},{"sample":"SWNT-A","E":0.15,"I":332.5},{"sample":"SWNT-A","E":0.1,"I":331.5},{"sample":"SWNT-A","E":0.05,"I":330.5},
      {"sample":"SWNT-A","E":0.02,"I":328.5},{"sample":"SWNT-A","E":0.01,"I":326.5},{"sample":"SWNT-A","E":0,"I":324},{"sample":"SWNT-A","E":-0.01,"I":321},{"sample":"SWNT-A","E":-0.02,"I":320},{"sample":"SWNT-A","E":-0.05,"I":320},{"sample":"SWNT-A","E":-0.1,"I":319.5},{"sample":"SWNT-A","E":-0.15,"I":319.5},{"sample":"SWNT-A","E":-0.19,"I":319.5},

      {"sample":"C60PPD-A","E":1.5,"I":357},{"sample":"C60PPD-A","E":1.45,"I":352.5},{"sample":"C60PPD-A","E":1.4,"I":347.5},{"sample":"C60PPD-A","E":1.35,"I":343},{"sample":"C60PPD-A","E":1.3,"I":339},{"sample":"C60PPD-A","E":1.25,"I":335},{"sample":"C60PPD-A","E":1.2,"I":330},{"sample":"C60PPD-A","E":1.15,"I":325},{"sample":"C60PPD-A","E":1.1,"I":322},{"sample":"C60PPD-A","E":1.05,"I":318.5},
      {"sample":"C60PPD-A","E":1,"I":312.5},{"sample":"C60PPD-A","E":0.95,"I":304.5},{"sample":"C60PPD-A","E":0.9,"I":297.5},{"sample":"C60PPD-A","E":0.85,"I":294},{"sample":"C60PPD-A","E":0.8,"I":292},{"sample":"C60PPD-A","E":0.75,"I":291},{"sample":"C60PPD-A","E":0.7,"I":288},{"sample":"C60PPD-A","E":0.65,"I":282.5},{"sample":"C60PPD-A","E":0.6,"I":275.5},{"sample":"C60PPD-A","E":0.55,"I":271},
      {"sample":"C60PPD-A","E":0.5,"I":269.5},{"sample":"C60PPD-A","E":0.45,"I":269},{"sample":"C60PPD-A","E":0.4,"I":265},{"sample":"C60PPD-A","E":0.35,"I":255.5},{"sample":"C60PPD-A","E":0.3,"I":250},{"sample":"C60PPD-A","E":0.25,"I":247},{"sample":"C60PPD-A","E":0.2,"I":245.5},{"sample":"C60PPD-A","E":0.15,"I":244.5},{"sample":"C60PPD-A","E":0.1,"I":243.5},{"sample":"C60PPD-A","E":0.05,"I":242},
      {"sample":"C60PPD-A","E":0.02,"I":240},{"sample":"C60PPD-A","E":0.01,"I":238},{"sample":"C60PPD-A","E":0,"I":235.5},{"sample":"C60PPD-A","E":-0.01,"I":233},{"sample":"C60PPD-A","E":-0.02,"I":232},{"sample":"C60PPD-A","E":-0.05,"I":232},{"sample":"C60PPD-A","E":-0.1,"I":232},{"sample":"C60PPD-A","E":-0.15,"I":232},{"sample":"C60PPD-A","E":-0.19,"I":232},

      {"sample":"SWNT-B","E":1.5,"I":250},{"sample":"SWNT-B","E":1.45,"I":247},{"sample":"SWNT-B","E":1.4,"I":244},{"sample":"SWNT-B","E":1.35,"I":239},{"sample":"SWNT-B","E":1.3,"I":233.5},{"sample":"SWNT-B","E":1.25,"I":228},{"sample":"SWNT-B","E":1.2,"I":224},{"sample":"SWNT-B","E":1.15,"I":219.5},{"sample":"SWNT-B","E":1.1,"I":215},{"sample":"SWNT-B","E":1.05,"I":207},
      {"sample":"SWNT-B","E":1,"I":198.5},{"sample":"SWNT-B","E":0.95,"I":192},{"sample":"SWNT-B","E":0.9,"I":187},{"sample":"SWNT-B","E":0.85,"I":185.5},{"sample":"SWNT-B","E":0.8,"I":183},{"sample":"SWNT-B","E":0.75,"I":179.5},{"sample":"SWNT-B","E":0.7,"I":173},{"sample":"SWNT-B","E":0.65,"I":166},{"sample":"SWNT-B","E":0.6,"I":160.5},{"sample":"SWNT-B","E":0.55,"I":158.5},
      {"sample":"SWNT-B","E":0.5,"I":157.5},{"sample":"SWNT-B","E":0.45,"I":156},{"sample":"SWNT-B","E":0.4,"I":151},{"sample":"SWNT-B","E":0.35,"I":142},{"sample":"SWNT-B","E":0.3,"I":135.5},{"sample":"SWNT-B","E":0.25,"I":133},{"sample":"SWNT-B","E":0.2,"I":131.5},{"sample":"SWNT-B","E":0.15,"I":130.5},{"sample":"SWNT-B","E":0.1,"I":129},{"sample":"SWNT-B","E":0.05,"I":126},
      {"sample":"SWNT-B","E":0.02,"I":123.5},{"sample":"SWNT-B","E":0.01,"I":121.5},{"sample":"SWNT-B","E":0,"I":119.5},{"sample":"SWNT-B","E":-0.01,"I":117},{"sample":"SWNT-B","E":-0.02,"I":116},{"sample":"SWNT-B","E":-0.05,"I":116},{"sample":"SWNT-B","E":-0.1,"I":116},{"sample":"SWNT-B","E":-0.15,"I":116},{"sample":"SWNT-B","E":-0.19,"I":116},

      {"sample":"C60PPD-B","E":1.5,"I":163},{"sample":"C60PPD-B","E":1.45,"I":159.5},{"sample":"C60PPD-B","E":1.4,"I":156},{"sample":"C60PPD-B","E":1.35,"I":151},{"sample":"C60PPD-B","E":1.3,"I":146},{"sample":"C60PPD-B","E":1.25,"I":141},{"sample":"C60PPD-B","E":1.2,"I":137},{"sample":"C60PPD-B","E":1.15,"I":133},{"sample":"C60PPD-B","E":1.1,"I":128.5},{"sample":"C60PPD-B","E":1.05,"I":122.5},
      {"sample":"C60PPD-B","E":1,"I":114},{"sample":"C60PPD-B","E":0.95,"I":106.5},{"sample":"C60PPD-B","E":0.9,"I":100.5},{"sample":"C60PPD-B","E":0.85,"I":98.5},{"sample":"C60PPD-B","E":0.8,"I":96.5},{"sample":"C60PPD-B","E":0.75,"I":92.5},{"sample":"C60PPD-B","E":0.7,"I":86},{"sample":"C60PPD-B","E":0.65,"I":78.5},{"sample":"C60PPD-B","E":0.6,"I":71},{"sample":"C60PPD-B","E":0.55,"I":69},
      {"sample":"C60PPD-B","E":0.5,"I":68.5},{"sample":"C60PPD-B","E":0.45,"I":67},{"sample":"C60PPD-B","E":0.4,"I":61.5},{"sample":"C60PPD-B","E":0.35,"I":53},{"sample":"C60PPD-B","E":0.3,"I":47},{"sample":"C60PPD-B","E":0.25,"I":43.5},{"sample":"C60PPD-B","E":0.2,"I":41.5},{"sample":"C60PPD-B","E":0.15,"I":40.5},{"sample":"C60PPD-B","E":0.1,"I":39.5},{"sample":"C60PPD-B","E":0.05,"I":37.5},
      {"sample":"C60PPD-B","E":0.02,"I":35.5},{"sample":"C60PPD-B","E":0.01,"I":33},{"sample":"C60PPD-B","E":0,"I":30.5},{"sample":"C60PPD-B","E":-0.01,"I":28},{"sample":"C60PPD-B","E":-0.02,"I":27},{"sample":"C60PPD-B","E":-0.05,"I":27},{"sample":"C60PPD-B","E":-0.1,"I":27},{"sample":"C60PPD-B","E":-0.15,"I":27},{"sample":"C60PPD-B","E":-0.19,"I":27}
    ],
    "peaks": [
      {"E":1.03,"top":435,"bottom":293},{"E":0.73,"top":400,"bottom":270},{"E":0.43,"top":370,"bottom":245},
      {"E":1.05,"top":230,"bottom":95},{"E":0.76,"top":203,"bottom":70},{"E":0.45,"top":171,"bottom":48}
    ],
    "fermi": [{"E":0,"top":495,"bottom":0}],
    "peakLabels": [
      {"text":"M","E":1.058,"I":443},{"text":"S","E":0.764,"I":410},{"text":"S","E":0.455,"I":381},
      {"text":"M","E":1.087,"I":236},{"text":"S","E":0.785,"I":206},{"text":"S","E":0.488,"I":176}
    ],
    "peakSubs": [
      {"text":"1","E":0.967,"I":431},{"text":"2","E":0.702,"I":396},{"text":"1","E":0.393,"I":370},
      {"text":"1","E":1.008,"I":225},{"text":"2","E":0.723,"I":195},{"text":"1","E":0.421,"I":166}
    ],
    "sampleLabels": [
      {"text":"SWNT-A","E":0.174,"I":340},{"text":"C","E":0.219,"I":258},{"text":"PPD-A","E":0.103,"I":258},
      {"text":"SWNT-B","E":0.161,"I":140},{"text":"C","E":0.219,"I":53},{"text":"PPD-B","E":0.083,"I":53}
    ],
    "sampleSubs": [
      {"text":"60","E":0.161,"I":256},{"text":"60","E":0.153,"I":51}
    ]
  },
  "resolve": {"axis": {"x": "independent", "y": "independent"}},
  "layer": [
    {
      "data": {"name": "exp"},
      "mark": {"type": "point", "shape": "circle", "filled": false, "size": 13, "strokeWidth": 0.7, "opacity": 1},
      "encoding": {
        "x": {"field": "E", "type": "quantitative",
              "scale": {"domain": [-0.194, 1.5], "reverse": true, "nice": false, "zero": false},
              "axis": {"orient": "bottom", "values": [1.5, 1, 0.5, 0], "format": "~g", "tickSize": -7, "tickWidth": 1.5,
                       "domainWidth": 2, "labelFontSize": 21, "labelPadding": 17, "labelFlush": false, "labelOverlap": false,
                       "title": "Binding Energy (eV)", "titleFontSize": 21, "titlePadding": 9}},
        "y": {"field": "I", "type": "quantitative",
              "scale": {"domain": [0, 495], "nice": false, "zero": false},
              "axis": {"orient": "left", "ticks": false, "labels": false, "domainWidth": 2, "title": "Intensity", "titleFontSize": 21, "titlePadding": 16}},
        "color": {"datum": "Exp.", "type": "nominal",
                  "scale": {"domain": ["Exp."], "range": ["#5a5a5a"]},
                  "legend": {"title": null, "orient": "none", "legendX": 319, "legendY": 19,
                             "symbolType": "M-1.94,0a0.34,0.34 0 1,0 0.68,0a0.34,0.34 0 1,0 -0.68,0M-0.873,0a0.34,0.34 0 1,0 0.68,0a0.34,0.34 0 1,0 -0.68,0M0.193,0a0.34,0.34 0 1,0 0.68,0a0.34,0.34 0 1,0 -0.68,0M1.26,0a0.34,0.34 0 1,0 0.68,0a0.34,0.34 0 1,0 -0.68,0",
                             "symbolStrokeWidth": 0.8, "symbolStrokeColor": "black", "symbolFillColor": "transparent"}}
      }
    },
    {
      "data": {"name": "cal"},
      "mark": {"type": "line", "strokeWidth": 2.6, "interpolate": "monotone", "color": "black"},
      "encoding": {
        "x": {"field": "E", "type": "quantitative",
              "axis": {"orient": "bottom", "values": [1.4, 1.3, 1.2, 1.1, 0.9, 0.8, 0.7, 0.6, 0.4, 0.3, 0.2, 0.1, -0.1], "tickSize": -3.5, "tickWidth": 1.5, "labels": false, "domain": false, "title": null}},
        "y": {"field": "I", "type": "quantitative", "axis": null},
        "detail": {"field": "sample"},
        "strokeDash": {"datum": "Cal.", "type": "nominal",
                       "scale": {"domain": ["Cal."], "range": [[1, 0]]},
                       "legend": {"title": null, "orient": "none", "legendX": 319, "legendY": 46,
                                  "symbolType": "M-2,0L2,0", "symbolStrokeWidth": 2.6, "symbolStrokeColor": "black"}}
      }
    },
    {
      "data": {"name": "peaks"},
      "mark": {"type": "rule", "color": "black", "strokeWidth": 1.3, "strokeDash": [4, 3]},
      "encoding": {
        "x": {"field": "E", "type": "quantitative",
              "axis": {"orient": "top", "values": [1.5, 1, 0.5, 0], "tickSize": -7, "tickWidth": 1.5, "labels": false, "domainWidth": 2, "title": null}},
        "y": {"field": "top", "type": "quantitative", "axis": null},
        "y2": {"field": "bottom"}
      }
    },
    {
      "data": {"name": "fermi"},
      "mark": {"type": "rule", "color": "black", "strokeWidth": 1.3, "strokeDash": [12, 4, 3, 4]},
      "encoding": {
        "x": {"field": "E", "type": "quantitative",
              "axis": {"orient": "top", "values": [1.4, 1.3, 1.2, 1.1, 0.9, 0.8, 0.7, 0.6, 0.4, 0.3, 0.2, 0.1, -0.1], "tickSize": -3.5, "tickWidth": 1.5, "labels": false, "domain": false, "title": null}},
        "y": {"field": "top", "type": "quantitative", "axis": null},
        "y2": {"field": "bottom"}
      }
    },
    {
      "data": {"name": "peakLabels"},
      "mark": {"type": "text", "fontSize": 22, "align": "left", "baseline": "alphabetic"},
      "encoding": {
        "x": {"field": "E", "type": "quantitative", "axis": null},
        "y": {"field": "I", "type": "quantitative", "axis": null},
        "text": {"field": "text"}
      }
    },
    {
      "data": {"name": "peakSubs"},
      "mark": {"type": "text", "fontSize": 15, "align": "left", "baseline": "alphabetic"},
      "encoding": {
        "x": {"field": "E", "type": "quantitative", "axis": null},
        "y": {"field": "I", "type": "quantitative", "axis": null},
        "text": {"field": "text"}
      }
    },
    {
      "data": {"name": "sampleLabels"},
      "mark": {"type": "text", "fontSize": 21, "align": "left", "baseline": "alphabetic"},
      "encoding": {
        "x": {"field": "E", "type": "quantitative", "axis": null},
        "y": {"field": "I", "type": "quantitative", "axis": null},
        "text": {"field": "text"}
      }
    },
    {
      "data": {"name": "sampleSubs"},
      "mark": {"type": "text", "fontSize": 14, "align": "left", "baseline": "alphabetic"},
      "encoding": {
        "x": {"field": "E", "type": "quantitative", "axis": null},
        "y": {"field": "I", "type": "quantitative", "axis": null},
        "text": {"field": "text"}
      }
    }
  ]
}
